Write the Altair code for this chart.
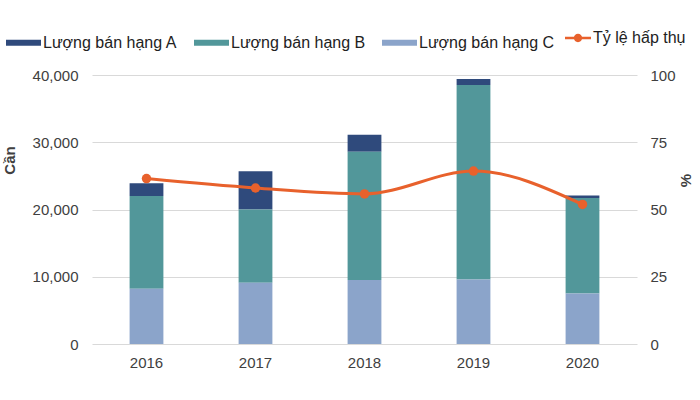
import altair as alt
import pandas as pd

years = ["2016", "2017", "2018", "2019", "2020"]
sales_a = [1900, 5700, 2500, 900, 400]
sales_b = [13800, 10900, 19100, 28900, 14200]
sales_c = [8200, 9100, 9500, 9600, 7500]
absorption = [61.5, 58.0, 55.8, 64.3, 51.9]

series_names = ["Lượng bán hạng A", "Lượng bán hạng B", "Lượng bán hạng C"]
series_colors = ["#2F4A7C", "#52979A", "#8BA4CA"]
line_name = "Tỷ lệ hấp thụ"
line_color = "#E8612C"

FONT = "Liberation Sans"
TXT = "#404040"

rows = []
for i, y in enumerate(years):
    for name, vals, order in zip(series_names, [sales_a, sales_b, sales_c], [2, 1, 0]):
        rows.append({"year": y, "series": name, "value": vals[i], "ord": order})
bars_df = pd.DataFrame(rows)
line_df = pd.DataFrame({"year": years, "rate": absorption, "series": [line_name] * len(years)})

xenc = alt.X("year:N", title=None,
             scale=alt.Scale(paddingInner=0.69, paddingOuter=0.345),
             axis=alt.Axis(labelAngle=0, domain=False, ticks=False, labelPadding=11,
                           labelFontSize=15, labelColor=TXT, labelFont=FONT))

bars = alt.Chart(bars_df).mark_bar().encode(
    x=xenc,
    y=alt.Y("value:Q", stack="zero",
            scale=alt.Scale(domain=[0, 40000], nice=False),
            axis=alt.Axis(title="Cần", values=[0, 10000, 20000, 30000, 40000], format=",.0f",
                          domain=False, ticks=False, grid=True, gridColor="#D9D9D9",
                          labelPadding=14, labelFontSize=15, labelColor=TXT, labelFont=FONT,
                          titleFont=FONT, titleFontSize=15, titleColor=TXT, titleFontWeight="bold",
                          titleAngle=-90, titleX=-75, titleY=85)),
    color=alt.Color("series:N",
                    scale=alt.Scale(domain=series_names, range=series_colors),
                    legend=alt.Legend(title=None, orient="none", legendX=-86, legendY=-50,
                                      direction="horizontal", columns=3,
                                      symbolType="M-1,-0.17H1V0.17H-1Z", symbolSize=1225,
                                      symbolStrokeWidth=0, labelFontSize=16, labelFont=FONT,
                                      labelColor="#222222", labelOffset=2, columnPadding=16)),
    order=alt.Order("ord:Q", sort="ascending"),
)

yrate = alt.Y("rate:Q",
              scale=alt.Scale(domain=[0, 100], nice=False),
              axis=alt.Axis(title="%", orient="right", values=[0, 25, 50, 75, 100],
                            domain=False, ticks=False, grid=False,
                            labelPadding=13, labelFontSize=15, labelColor=TXT, labelFont=FONT,
                            titleFont=FONT, titleFontSize=15, titleColor=TXT, titleFontWeight="bold",
                            titleAngle=-90, titleX=56, titleY=105))

cenc = alt.Color("series:N", scale=alt.Scale(domain=[line_name], range=[line_color]),
                 legend=alt.Legend(title=None, orient="none", legendX=473, legendY=-50,
                                   symbolType="M-1,-0.1H1V0.1H-1Z M-0.32,0 A0.32,0.32 0 1,1 0.32,0 A0.32,0.32 0 1,1 -0.32,0Z",
                                   symbolSize=676, symbolFillColor=line_color,
                                   symbolStrokeColor=line_color, symbolStrokeWidth=0,
                                   labelFontSize=16, labelFont=FONT, labelColor="#222222",
                                   labelOffset=2))

line = alt.Chart(line_df).mark_line(interpolate="monotone", strokeWidth=3, color=line_color).encode(
    x=alt.X("year:N"), y=yrate, color=cenc)
points = alt.Chart(line_df).mark_circle(size=90, opacity=1, color=line_color).encode(
    x=alt.X("year:N"), y=alt.Y("rate:Q"), color=cenc)

rate_layer = alt.layer(line, points)

chart = alt.layer(bars, rate_layer).resolve_scale(y="independent", color="independent").properties(
    width=545, height=269,
    autosize=alt.AutoSizeParams(type="none"),
    padding={"left": 92, "top": 75, "right": 63, "bottom": 56},
    background="white",
).configure_view(stroke=None)

chart.save("out.html", embed_options={"renderer": "svg", "actions": False})
